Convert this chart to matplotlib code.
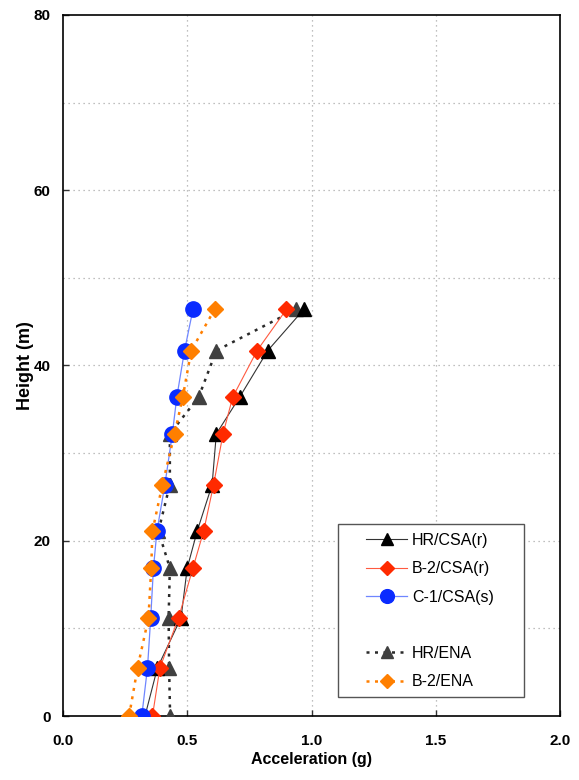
import matplotlib
matplotlib.use("Agg")
import matplotlib.pyplot as plt
from matplotlib.lines import Line2D
from matplotlib.patches import Rectangle

plt.rcParams['font.family'] = ['Liberation Sans', 'DejaVu Sans']

heights = [0, 5.5, 11.2, 16.9, 21.1, 26.4, 32.2, 36.4, 41.7, 46.4]
hr_csa = [0.33, 0.38, 0.475, 0.50, 0.54, 0.60, 0.617, 0.711, 0.824, 0.969]
b2_csa = [0.36, 0.39, 0.465, 0.523, 0.566, 0.606, 0.644, 0.683, 0.781, 0.899]
c1_csa = [0.317, 0.34, 0.353, 0.364, 0.378, 0.41, 0.44, 0.458, 0.489, 0.523]
hr_ena = [0.431, 0.427, 0.425, 0.43, 0.384, 0.43, 0.43, 0.546, 0.617, 0.938]
b2_ena = [0.266, 0.30, 0.344, 0.355, 0.36, 0.40, 0.449, 0.482, 0.516, 0.61]

labels = ['HR/CSA(r)', 'B-2/CSA(r)', 'C-1/CSA(s)', ' ', 'HR/ENA', 'B-2/ENA']
x_ticks = [0.0, 0.5, 1.0, 1.5, 2.0]
y_ticks = [0, 20, 40, 60, 80]

W, H = 579, 780
fig = plt.figure(figsize=(W / 100, H / 100), dpi=100)
ax = fig.add_axes([63 / W, 1 - 716 / H, (560 - 63) / W, (716 - 15) / H])

h_ena, = ax.plot(hr_ena, heights, color='#2A2A2A', linestyle=(0, (1.2, 2.2)), linewidth=1.8,
                 marker='^', markersize=9.5, markerfacecolor='#404040', markeredgecolor='#404040',
                 zorder=3)
h_hr, = ax.plot(hr_csa, heights, color='#333333', linestyle='-', linewidth=0.8,
                marker='^', markersize=9.5, markerfacecolor='black', markeredgecolor='black',
                zorder=4)
h_b2, = ax.plot(b2_csa, heights, color='#FF5A40', linestyle='-', linewidth=0.8,
                marker='D', markersize=8, markerfacecolor='#FF2A00', markeredgecolor='#FF2A00',
                zorder=5)
h_c1, = ax.plot(c1_csa, heights, color='#6F86FF', linestyle='-', linewidth=0.9,
                marker='o', markersize=11, markerfacecolor='#0A2BFF', markeredgecolor='#0A2BFF',
                zorder=6)
h_b2e, = ax.plot(b2_ena, heights, color='#FF7F00', linestyle=(0, (1.2, 2.2)), linewidth=1.8,
                 marker='D', markersize=8, markerfacecolor='#FF7F00', markeredgecolor='#FF7F00',
                 zorder=7)

blank = Line2D([], [], linestyle='none', marker='none')

# legend frame
frame = Rectangle((337.5 / W, 1 - 696.7 / H), (524 - 337.5) / W, (696.7 - 524.3) / H,
                  transform=fig.transFigure, facecolor='white', edgecolor='#555555',
                  linewidth=1.0, zorder=10, clip_on=False)
ax.add_patch(frame)

leg = ax.legend(handles=[h_hr, h_b2, h_c1, blank, h_ena, h_b2e], labels=labels,
                loc='upper left', bbox_to_anchor=(366 / W, 1 - 533 / H),
                bbox_transform=fig.transFigure, frameon=False,
                fontsize=11.5, handlelength=2.57, handletextpad=0.31, labelspacing=0.83,
                borderpad=0, borderaxespad=0)
leg.set_zorder(11)
for lh in leg.get_lines():
    lh.set_markersize(lh.get_markersize() * 0.9)

ax.set_xlim(0, 2.0)
ax.set_ylim(0, 80)
ax.set_xticks(x_ticks)
ax.set_yticks(y_ticks)
ax.set_xticklabels([f'{v:.1f}' for v in x_ticks], fontweight='bold', fontsize=11)
ax.set_yticklabels([str(v) for v in y_ticks], fontweight='bold', fontsize=11)
ax.tick_params(direction='in', length=4, width=1, color='#333333')
ax.tick_params(axis='x', pad=13)
ax.tick_params(axis='y', pad=9)

for xv in [0.5, 1.0, 1.5]:
    ax.axvline(xv, color='#AAAAAA', linestyle=(0, (1, 3)), linewidth=0.9, zorder=1)
for yv in [10, 20, 30, 40, 50, 60, 70]:
    ax.axhline(yv, color='#AAAAAA', linestyle=(0, (1, 3)), linewidth=0.9, zorder=1)

for s in ax.spines.values():
    s.set_linewidth(1.2)

ax.set_xlabel('Acceleration (g)', fontweight='bold', fontsize=11.5, labelpad=3)
ax.set_ylabel('Height (m)', fontweight='bold', fontsize=13, labelpad=0)

fig.savefig('out.png', dpi=100)
